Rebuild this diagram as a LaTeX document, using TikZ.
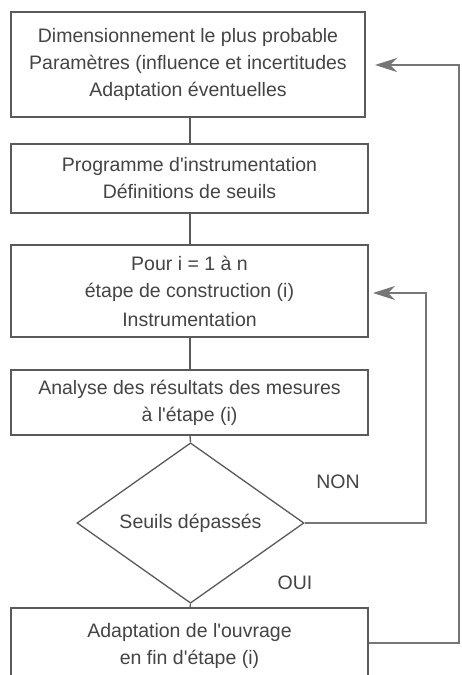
\documentclass[tikz,border=0pt]{standalone}
\usepackage{fontspec}
\setmainfont{Liberation Sans}
\usetikzlibrary{shapes.geometric,arrows.meta,calc}
\definecolor{txt}{HTML}{444444}
\definecolor{edge}{HTML}{5A5A5A}
\definecolor{loopc}{HTML}{767676}
\newcommand{\apos}{\textquotesingle}
\begin{document}
\begin{tikzpicture}[x=1pt,y=-1pt,
  every node/.style={text=txt,font=\fontsize{19.5}{27}\selectfont},
  box/.style={draw=edge,line width=1.3pt,rectangle,inner sep=0pt,align=center,minimum width=357pt},
  dec/.style={draw=edge,line width=1.3pt,diamond,inner sep=0pt,minimum width=227pt,minimum height=122pt},
  link/.style={draw=edge,line width=1.3pt},
  back/.style={draw=loopc,line width=2.2pt,-{Stealth[length=22pt,width=14pt,inset=7pt]}},
  lbl/.style={inner sep=0pt}]
\clip (0,0) rectangle (462,675);
\fill[white] (0,0) rectangle (462,675);
\node[box,minimum width=354pt,minimum height=105pt] (b1) at (188,64.5)
  {Dimensionnement le plus probable\\Paramètres (influence et incertitudes\\Adaptation éventuelles};
\node[box,minimum height=69pt] (b2) at (189.5,178.5)
  {Programme d\apos instrumentation\\Définitions de seuils};
\node[box,minimum height=92pt] (b3) at (189.5,291)
  {Pour i = 1 à n\\étape de construction (i)\\[2pt]Instrumentation};
\node[box,minimum height=65pt] (b4) at (189.5,402.5)
  {Analyse des résultats des mesures\\à l\apos étape (i)};
\node[dec] (d) at (190.5,523) {Seuils dépassés};
\node[box,minimum height=75pt] (b5) at (189.5,645.5)
  {Adaptation de l\apos ouvrage\\en fin d\apos étape (i)};
\node[lbl] (non) at (338,482) {NON};
\node[lbl] (oui) at (295,583) {OUI};
\draw[link] (b1.south -| 190,0) -- (b2.north -| 190,0);
\draw[link] (b2.south -| 190,0) -- (b3.north -| 190,0);
\draw[link] (b3.south -| 190,0) -- (b4.north -| 190,0);
\draw[link] (b4.south -| 190,0) -- (d.north);
\draw[link] (d.south) -- (b5.north -| 190,0);
\coordinate (k1) at (426,293);
\coordinate (t1) at (373,293);
\draw[back] (d.east) -| (k1) -- (t1);
\coordinate (k2) at (459,65);
\coordinate (t2) at (375,65);
\draw[back] (b5.east |- 0,643) -| (k2) -- (t2);
\end{tikzpicture}
\end{document}
